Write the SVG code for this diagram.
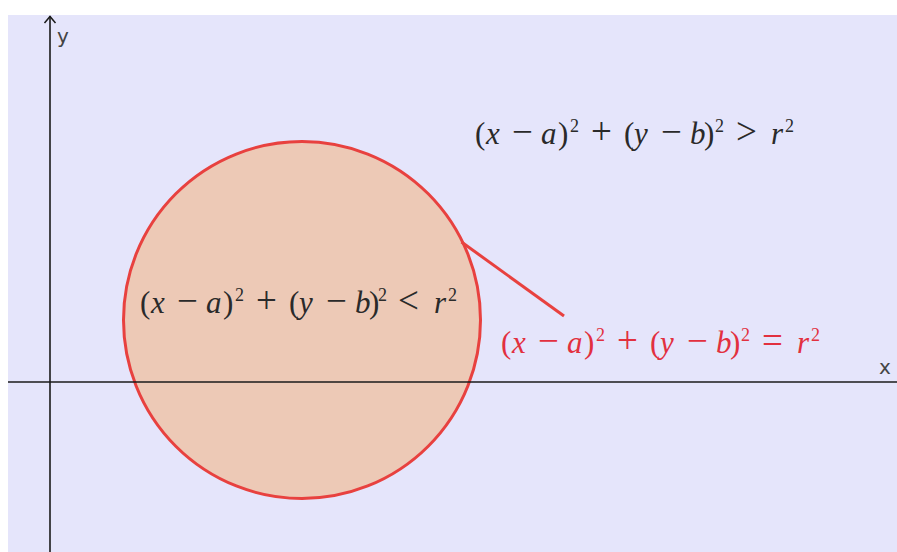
<svg xmlns="http://www.w3.org/2000/svg" width="897" height="552" viewBox="0 0 897 552">
<style>
.math{font-family:"Liberation Serif",serif;font-size:31px;fill:#2a2a2a}
.red{fill:#e2303f}
.v{font-style:italic}
.op{font-size:37px}
.sup{font-size:18px}
.axl{font-family:"DejaVu Sans","Liberation Sans",sans-serif;font-size:20px;fill:#444}
</style>
<rect x="0" y="0" width="897" height="552" fill="#ffffff"/>
<rect x="8" y="15" width="889" height="537" fill="#e5e5fb"/>
<g id="region-inside">
<circle cx="302" cy="320" r="178.5" fill="#edc9b6" stroke="#e8413f" stroke-width="3"/>
</g>
<g id="axes" stroke="#1a1a1a" fill="none">
<line x1="8" y1="382" x2="897" y2="382" stroke-width="1.6"/>
<line x1="50" y1="552" x2="50" y2="16" stroke-width="1.6"/>
<polyline points="44.5,23 50,16.5 55.5,23" stroke-width="1.5"/>
</g>
<g id="connectors">
<line x1="461.5" y1="242" x2="564" y2="316" stroke="#e8413f" stroke-width="3"/>
</g>
<text class="axl" x="57" y="43">y</text>
<text class="axl" x="879" y="374">x</text>
<g id="outside" transform="translate(475,144)">
<text class="math"><tspan x="0">(</tspan><tspan class="v" x="11">x</tspan><tspan class="op" x="37">−</tspan><tspan class="v" x="66">a</tspan><tspan x="83">)</tspan><tspan class="sup" x="95" y="-12">2</tspan><tspan class="op" x="116" y="0">+</tspan><tspan x="149">(</tspan><tspan class="v" x="159">y</tspan><tspan class="op" x="186">−</tspan><tspan class="v" x="215">b</tspan><tspan x="229">)</tspan><tspan class="sup" x="240" y="-12">2</tspan><tspan class="op" x="261" y="0">&gt;</tspan><tspan class="v" x="296">r</tspan><tspan class="sup" x="310" y="-12">2</tspan></text>
</g>
<g id="inside" transform="translate(140,313)">
<text class="math"><tspan x="0">(</tspan><tspan class="v" x="11">x</tspan><tspan class="op" x="37">−</tspan><tspan class="v" x="66">a</tspan><tspan x="83">)</tspan><tspan class="sup" x="95" y="-12">2</tspan><tspan class="op" x="116" y="0">+</tspan><tspan x="149">(</tspan><tspan class="v" x="159">y</tspan><tspan class="op" x="186">−</tspan><tspan class="v" x="215">b</tspan><tspan x="229">)</tspan><tspan class="sup" x="238" y="-12">2</tspan><tspan class="op" x="258" y="0">&lt;</tspan><tspan class="v" x="294">r</tspan><tspan class="sup" x="308" y="-12">2</tspan></text>
</g>
<g id="boundary" transform="translate(501,353)">
<text class="math red"><tspan x="0">(</tspan><tspan class="v" x="11">x</tspan><tspan class="op" x="37">−</tspan><tspan class="v" x="66">a</tspan><tspan x="83">)</tspan><tspan class="sup" x="95" y="-12">2</tspan><tspan class="op" x="116" y="0">+</tspan><tspan x="149">(</tspan><tspan class="v" x="159">y</tspan><tspan class="op" x="186">−</tspan><tspan class="v" x="215">b</tspan><tspan x="229">)</tspan><tspan class="sup" x="240" y="-12">2</tspan><tspan class="op" x="261" y="0">=</tspan><tspan class="v" x="296">r</tspan><tspan class="sup" x="310" y="-12">2</tspan></text>
</g>
</svg>
